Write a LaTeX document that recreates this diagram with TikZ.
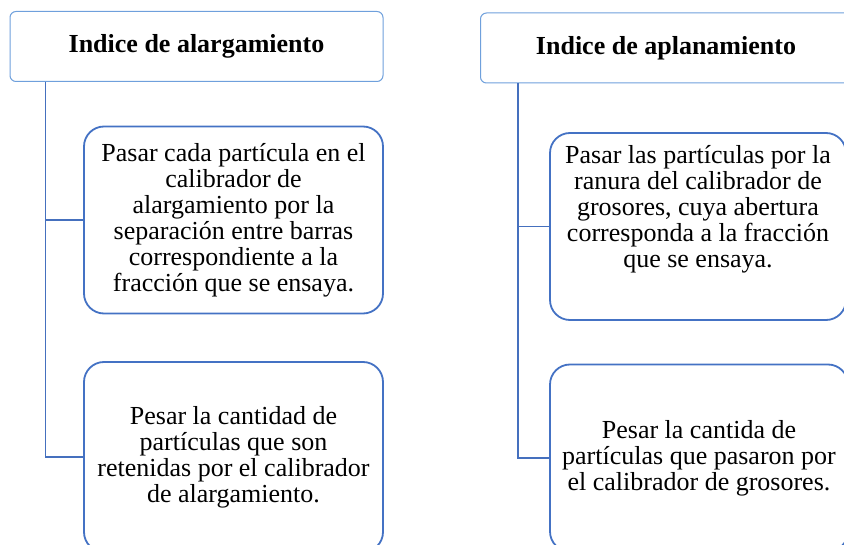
\documentclass[tikz,border=0pt]{standalone}
\usepackage{fontspec}
\setmainfont{Liberation Serif}
\usepackage{xcolor}
\usetikzlibrary{positioning,calc}
\definecolor{hdrblue}{HTML}{6FA0DC}
\definecolor{boxblue}{HTML}{4472C4}
\definecolor{linkblue}{HTML}{4570BE}
\tikzset{
  hdr/.style={draw=hdrblue, line width=1pt, rounded corners=6pt, fill=white,
    minimum height=70pt, inner sep=0pt, font=\fontsize{26}{26}\selectfont\bfseries},
  stepbox/.style={draw=boxblue, line width=1.8pt, rounded corners=20pt, fill=white,
    minimum width=299pt, minimum height=187pt, inner sep=0pt, align=center,
    font=\fontsize{26}{26}\selectfont},
  conn/.style={draw=linkblue, line width=1.7pt}
}
\begin{document}
\begin{tikzpicture}[x=1pt,y=1pt]
\useasboundingbox (0,0) rectangle (844,-545);
\clip (0,0) rectangle (844,-545);
% alargamiento
\node[hdr, minimum width=373pt] (alar) at (196.5,-46.5) {Indice de alargamiento};
\node[stepbox] (alar1) at (233.5,-220) {Pasar cada partícula en el\\ calibrador de\\
  alargamiento por la\\ separación entre barras\\ correspondiente a la\\ fracción que se ensaya.};
\node[stepbox, minimum height=190pt] (alar2) at (233.5,-457) {Pesar la cantidad de\\
  partículas que son\\ retenidas por el calibrador\\ de alargamiento.};
\coordinate (alarT) at ([xshift=36pt]alar.south west);
\draw[conn] (alarT) |- (alar1.west); \draw[conn] (alarT) |- (alar2.west);
% aplanamiento
\node[hdr, minimum width=371pt] (apla) at (666,-48) {Indice de aplanamiento};
\node[stepbox, minimum width=296pt] (apla1) at (698,-226.5) {Pasar las partículas por la\\
  ranura del calibrador de\\ grosores, cuya abertura\\ corresponda a la fracción\\ que se ensaya.\\[14pt]\mbox{}};
\node[stepbox, minimum width=298pt] (apla2) at (699,-458) {Pesar la cantida de\\
  partículas que pasaron por\\ el calibrador de grosores.};
\coordinate (aplaT) at ([xshift=38pt]apla.south west);
\draw[conn] (aplaT) |- (apla1.west); \draw[conn] (aplaT) |- (apla2.west);
\end{tikzpicture}
\end{document}
